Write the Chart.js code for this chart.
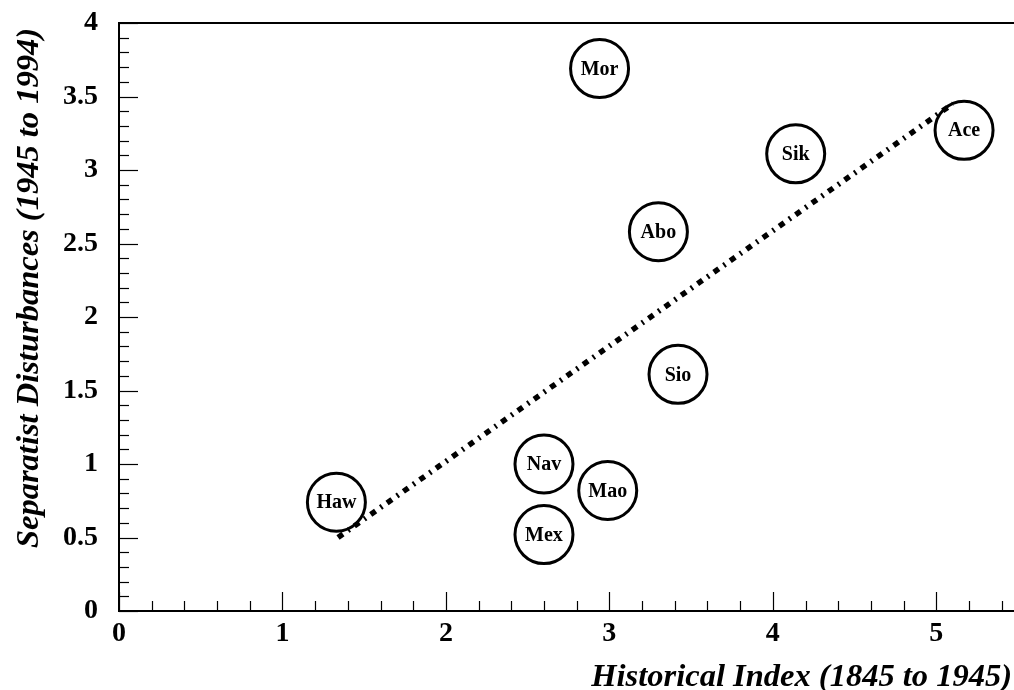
<!DOCTYPE html>
<html>
<head>
<meta charset="utf-8">
<script src="https://cdn.jsdelivr.net/npm/chart.js@4.4.1/dist/chart.umd.min.js"></script>
<style>
  html, body { margin: 0; padding: 0; background: #fff; overflow: hidden; }
  canvas { display: block; }
</style>
</head>
<body>
<canvas id="c" width="1024" height="690" style="width:1024px;height:690px"></canvas>
<script>
// ---- data ----
const groups = ["Mor", "Ace", "Sik", "Abo", "Sio", "Nav", "Mao", "Haw", "Mex"];
const historicalIndex = [2.94, 5.17, 4.14, 3.30, 3.42, 2.60, 2.99, 1.33, 2.60];
const separatistDisturbances = [3.69, 3.27, 3.11, 2.58, 1.61, 1.00, 0.82, 0.74, 0.52];
const trendX = [1.34, 5.10];
const trendY = [0.50, 3.45];
const xTickValues = [0, 1, 2, 3, 4, 5];
const yTickValues = [0, 0.5, 1, 1.5, 2, 2.5, 3, 3.5, 4];
const xTitle = "Historical Index (1845 to 1945)";
const yTitle = "Separatist Disturbances (1945 to 1994)";

const FONT = "Liberation Serif";

const points = groups.map((g, i) => ({ x: historicalIndex[i], y: separatistDisturbances[i], label: g }));
const trend = trendX.map((x, i) => ({ x: x, y: trendY[i] }));

const framePlugin = {
  id: 'frame',
  beforeDatasetsDraw(chart) {
    const ctx = chart.ctx;
    const xs = chart.scales.x, ys = chart.scales.y;
    const a = chart.chartArea;
    ctx.save();
    ctx.strokeStyle = '#000';
    ctx.lineWidth = 1.2;
    for (let k = 0; k <= 27; k++) {
      const v = k * 0.2;
      const px = Math.round(xs.getPixelForValue(v)) + 0.5;
      const len = (k % 5 === 0) ? 19 : 10;
      ctx.beginPath();
      ctx.moveTo(px, a.bottom);
      ctx.lineTo(px, a.bottom - len);
      ctx.stroke();
    }
    for (let k = 0; k <= 40; k++) {
      const v = k * 0.1;
      const py = Math.round(ys.getPixelForValue(v)) + 0.5;
      const len = (k % 5 === 0) ? 19 : 10;
      ctx.beginPath();
      ctx.moveTo(a.left, py);
      ctx.lineTo(a.left + len, py);
      ctx.stroke();
    }
    ctx.lineWidth = 2;
    ctx.beginPath();
    ctx.moveTo(a.left, a.top);
    ctx.lineTo(a.right, a.top);
    ctx.stroke();
    ctx.restore();
  },
  afterDatasetsDraw(chart) {
    const ctx = chart.ctx;
    const xs = chart.scales.x, ys = chart.scales.y;
    ctx.save();
    ctx.fillStyle = '#000';
    ctx.font = 'bold 20px "' + FONT + '"';
    ctx.textAlign = 'center';
    ctx.textBaseline = 'middle';
    points.forEach(p => {
      ctx.fillText(p.label, xs.getPixelForValue(p.x), ys.getPixelForValue(p.y) + 1);
    });
    ctx.font = 'bold italic 32.5px "' + FONT + '"';
    ctx.textAlign = 'right';
    ctx.textBaseline = 'alphabetic';
    ctx.fillText(xTitle, 1012, 686);
    ctx.save();
    ctx.translate(38, 28);
    ctx.rotate(-Math.PI / 2);
    ctx.textAlign = 'right';
    ctx.fillText(yTitle, 0, 0);
    ctx.restore();
    ctx.restore();
  }
};

new Chart(document.getElementById('c'), {
  type: 'scatter',
  data: {
    datasets: [
      {
        type: 'line',
        data: trend,
        borderColor: '#000',
        borderWidth: 5.5,
        borderDash: [6, 6, 2, 6],
        pointRadius: 0,
        fill: false,
        clip: false,
        order: 0
      },
      {
        data: points,
        pointRadius: 29,
        pointHoverRadius: 29,
        pointBorderWidth: 3,
        pointBorderColor: '#000',
        pointBackgroundColor: 'rgba(255,255,255,0)',
        showLine: false,
        clip: false,
        order: 1
      }
    ]
  },
  options: {
    responsive: false,
    animation: false,
    events: [],
    layout: { autoPadding: false, padding: { top: 23, right: 6, left: 0, bottom: 0 } },
    plugins: { legend: { display: false }, tooltip: { enabled: false } },
    scales: {
      x: {
        type: 'linear',
        min: 0, max: 5.5,
        grid: { display: false, drawTicks: false },
        border: { display: true, color: '#000', width: 2 },
        afterBuildTicks: s => { s.ticks = xTickValues.map(v => ({ value: v })); },
        afterFit: s => { s.height = 79; s.paddingLeft = 0; s.paddingRight = 0; },
        ticks: { color: '#000', padding: 6, font: { family: FONT, size: 28, weight: 'bold' }, maxRotation: 0, autoSkip: false, callback: v => String(v) }
      },
      y: {
        type: 'linear',
        min: 0, max: 4,
        grid: { display: false, drawTicks: false },
        border: { display: true, color: '#000', width: 2 },
        afterBuildTicks: s => { s.ticks = yTickValues.map(v => ({ value: v })); },
        afterFit: s => { s.width = 119; s.paddingTop = 0; s.paddingBottom = 0; },
        ticks: { color: '#000', padding: 21, font: { family: FONT, size: 28, weight: 'bold' }, autoSkip: false, callback: v => String(v) }
      }
    }
  },
  plugins: [framePlugin]
});
</script>
</body>
</html>
